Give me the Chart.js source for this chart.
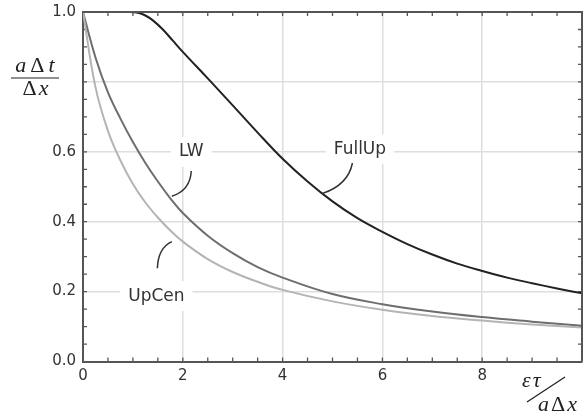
<!DOCTYPE html>
<html><head><meta charset="utf-8">
<script src="https://cdn.jsdelivr.net/npm/chart.js@4"></script>
<style>html,body{margin:0;padding:0;background:#fff}#wrap{width:583px;height:414px;position:relative}</style>
</head><body><div id="wrap"><canvas id="c"></canvas></div>
<script>
// ---- data ----
const fullUpX=[0,0.5,0.9,1.1,1.25,1.4,1.6,1.8,2,2.5,3,3.5,4,4.5,5,5.5,6,6.5,7,7.5,8,8.5,9,9.5,10];
const fullUpY=[1,1,1,0.998,0.99,0.976,0.95,0.918,0.886,0.81,0.733,0.655,0.58,0.515,0.458,0.41,0.371,0.336,0.306,0.28,0.259,0.24,0.224,0.209,0.195];
const lwX=[0,0.25,0.5,0.75,1,1.25,1.5,1.75,2,2.5,3,3.5,4,5,6,7,8,9,10];
const lwY=[1,0.87,0.77,0.695,0.628,0.568,0.515,0.467,0.425,0.36,0.31,0.27,0.24,0.193,0.164,0.143,0.127,0.114,0.102];
const upCenX=[0,0.25,0.5,0.75,1,1.25,1.5,1.75,2,2.5,3,3.5,4,5,6,7,8,9,10];
const upCenY=[1,0.785,0.66,0.575,0.508,0.455,0.412,0.375,0.343,0.293,0.256,0.228,0.205,0.172,0.148,0.13,0.117,0.106,0.097];
const xTickLabels=[0,2,4,6,8];
const yTickLabels=['0.0','0.2','0.4','0.6','1.0'];
const curveLabels=[
  {text:'LW', x:2.17, y:0.6, lead:[[2.17,0.545],[2.146,0.489],[1.78,0.473]]},
  {text:'FullUp', x:5.55, y:0.607, lead:[[5.4,0.568],[5.31,0.505],[4.8,0.481]]},
  {text:'UpCen', x:1.47, y:0.187, lead:[[1.78,0.343],[1.506,0.325],[1.49,0.267]]}
];

const pts=(xs,ys)=>xs.map((x,i)=>({x:x,y:ys[i]}));
const FONT='"DejaVu Sans", sans-serif';

function drawRun(ctx,parts,x,y,gap,center){
  let tw=0;parts.forEach(p=>{ctx.font=p[1];tw+=ctx.measureText(p[0]).width;});
  tw+=gap*(parts.length-1);
  let cx=center?x-tw/2:x;
  parts.forEach(p=>{ctx.font=p[1];ctx.fillText(p[0],cx,y);cx+=ctx.measureText(p[0]).width+gap;});
}

const decor={
  id:'decor',
  beforeDatasetsDraw(chart){
    const {ctx,chartArea:a,scales:{x,y}}=chart;
    ctx.save();
    ctx.strokeStyle='#555';ctx.lineWidth=1.3;
    x.ticks.forEach(t=>{ if(t.value<=0||t.value>=10) return;
      const p=x.getPixelForValue(t.value);
      ctx.beginPath();ctx.moveTo(p,a.bottom);ctx.lineTo(p,a.bottom-4);
      ctx.moveTo(p,a.top);ctx.lineTo(p,a.top+4);ctx.stroke();});
    y.ticks.forEach(t=>{ if(t.value<=0.001||t.value>=0.999) return;
      const p=y.getPixelForValue(t.value);
      ctx.beginPath();ctx.moveTo(a.left,p);ctx.lineTo(a.left+4,p);
      ctx.moveTo(a.right,p);ctx.lineTo(a.right-4,p);ctx.stroke();});
    ctx.restore();
  },
  afterDatasetsDraw(chart){
    const {ctx,chartArea:a,scales:{x,y}}=chart;
    ctx.save();
    ctx.strokeStyle='#555';ctx.lineWidth=2;
    ctx.beginPath();ctx.moveTo(a.left,a.top);ctx.lineTo(a.right,a.top);ctx.lineTo(a.right,a.bottom);ctx.stroke();
    ctx.font='17px '+FONT;ctx.textAlign='center';ctx.textBaseline='middle';
    curveLabels.forEach(l=>{
      const px=x.getPixelForValue(l.x),py=y.getPixelForValue(l.y);
      const w=ctx.measureText(l.text).width;
      ctx.fillStyle='#fff';ctx.fillRect(px-w/2-8,py-15,w+16,30);
      ctx.fillStyle='#333';ctx.fillText(l.text,px,py);
      const p=l.lead.map(q=>[x.getPixelForValue(q[0]),y.getPixelForValue(q[1])]);
      ctx.strokeStyle='#333';ctx.lineWidth=1.5;
      ctx.beginPath();ctx.moveTo(p[0][0],p[0][1]);ctx.quadraticCurveTo(p[1][0],p[1][1],p[2][0],p[2][1]);ctx.stroke();
    });
    ctx.fillStyle='#222';ctx.textAlign='left';ctx.textBaseline='alphabetic';
    const it='italic 22px "Liberation Serif", serif', up='22px "Liberation Serif", serif';
    drawRun(ctx,[['a',it],['\u0394',up],['t',it]],35,72,4,true);
    ctx.strokeStyle='#222';ctx.lineWidth=1.2;ctx.beginPath();ctx.moveTo(11,78);ctx.lineTo(59,78);ctx.stroke();
    drawRun(ctx,[['\u0394',up],['x',it]],35.5,95,2,true);
    drawRun(ctx,[['\u03b5',it],['\u03c4',it]],522,387,2,false);
    ctx.lineWidth=1.3;ctx.beginPath();ctx.moveTo(527,402);ctx.lineTo(565,377);ctx.stroke();
    drawRun(ctx,[['a',it],['\u0394',up],['x',it]],538,411,2,false);
    ctx.restore();
  }
};

new Chart(document.getElementById('c'),{
  type:'line',
  data:{datasets:[
    {label:'UpCen',data:pts(upCenX,upCenY),borderColor:'#b4b4b4',borderWidth:2,pointRadius:0,tension:0.4},
    {label:'LW',data:pts(lwX,lwY),borderColor:'#6e6e6e',borderWidth:2,pointRadius:0,tension:0.4},
    {label:'FullUp',data:pts(fullUpX,fullUpY),borderColor:'#222',borderWidth:2,pointRadius:0,tension:0.4}
  ]},
  options:{
    responsive:true,maintainAspectRatio:false,animation:false,
    layout:{padding:{top:12,right:1,left:0,bottom:0}},
    plugins:{legend:{display:false},tooltip:{enabled:false}},
    scales:{
      x:{type:'linear',min:0,max:10,
        afterFit:s=>{s.height=52.5;s.paddingLeft=0;s.paddingRight=0;},
        border:{display:true,color:'#555',width:2},
        grid:{drawTicks:false,tickLength:0,lineWidth:1.5,
          color:c=>{const v=c.tick.value;return (v>0&&v<10&&Math.abs(v%2)<1e-9)?'#dedede':'rgba(0,0,0,0)';}},
        ticks:{stepSize:0.5,autoSkip:false,maxRotation:0,padding:6,color:'#333',font:{family:FONT,size:15},
          callback:v=>xTickLabels.includes(v)?String(v):''}
      },
      y:{type:'linear',min:0,max:1,
        afterFit:s=>{s.width=83;s.paddingTop=0;s.paddingBottom=0;},
        border:{display:true,color:'#555',width:2},
        grid:{drawTicks:false,tickLength:0,lineWidth:1.5,
          color:c=>{const k=Math.round(c.tick.value*100);return (k>0&&k<100&&k%20===0)?'#dedede':'rgba(0,0,0,0)';}},
        ticks:{stepSize:0.05,autoSkip:false,padding:7,color:'#333',font:{family:FONT,size:15},
          callback:v=>{const s=v.toFixed(1);const k=Math.round(v*100);return (k%10===0&&yTickLabels.includes(s))?s:'';}}
      }
    }
  },
  plugins:[decor]
});
</script></body></html>
